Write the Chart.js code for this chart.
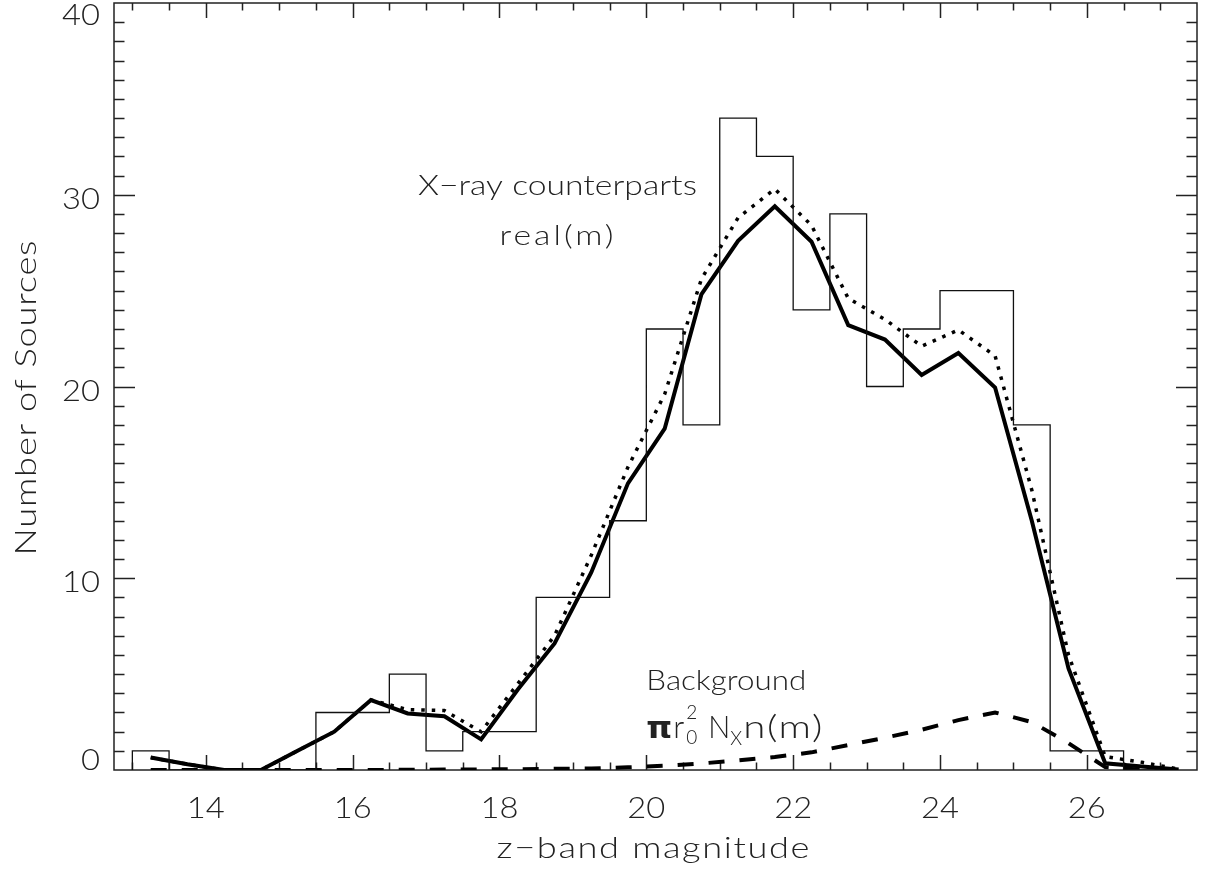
<!DOCTYPE html>
<html>
<head>
<meta charset="utf-8">
<script src="https://cdn.jsdelivr.net/npm/chart.js@4.4.1/dist/chart.umd.min.js"></script>
<style>
  html, body { margin: 0; padding: 0; background: #fff; }
  #wrap { width: 1207px; height: 871px; }
</style>
</head>
<body>
<div id="wrap"><canvas id="chart" width="1207" height="871"></canvas></div>
<script>
// ---- data ----
// histogram of X-ray counterparts, 0.5 mag bins
const binEdges = [13.0, 13.5, 14.0, 14.5, 15.0, 15.5, 16.0, 16.5, 17.0, 17.5, 18.0, 18.5, 19.0, 19.5, 20.0,
                  20.5, 21.0, 21.5, 22.0, 22.5, 23.0, 23.5, 24.0, 24.5, 25.0, 25.5, 26.0, 26.5, 27.0];
const binCounts = [1, 0, 0, 0, 0, 3, 3, 5, 1, 2, 2, 9, 9, 13, 23, 18, 34, 32, 24, 29, 20, 23, 25, 25, 18, 1, 1, 0];

// model curves, sampled at the bin centres
const magCenters = [13.25, 13.75, 14.25, 14.75, 15.25, 15.75, 16.25, 16.75, 17.25, 17.75, 18.25, 18.75, 19.25, 19.75, 20.25,
                    20.75, 21.25, 21.75, 22.25, 22.75, 23.25, 23.75, 24.25, 24.75, 25.25, 25.75, 26.25, 26.75, 27.25];
const realModel = [0.65, 0.3, 0, 0, 1.0, 2.0, 3.65, 2.95, 2.8, 1.6, 4.2, 6.6, 10.3, 14.95, 17.8,
                   24.8, 27.6, 29.4, 27.55, 23.2, 22.45, 20.6, 21.75, 19.95, 13.0, 5.3, 0.35, 0.18, 0.02];
const totalModel = [0.65, 0.3, 0, 0, 1.0, 2.0, 3.65, 3.15, 3.1, 2.0, 4.5, 7.0, 11.2, 15.8, 19.6,
                    25.6, 28.8, 30.3, 28.4, 24.6, 23.5, 22.1, 22.95, 21.6, 14.6, 6.0, 0.7, 0.4, 0.05];
const backgroundModel = [0, 0, 0, 0, 0, 0, 0, 0.01, 0.02, 0.03, 0.04, 0.06, 0.08, 0.14, 0.22,
                         0.34, 0.5, 0.68, 0.92, 1.3, 1.68, 2.1, 2.6, 3.0, 2.5, 1.4, 0.15, 0.02, 0];

const xTicks = [14, 16, 18, 20, 22, 24, 26];
const yTicks = [0, 10, 20, 30, 40];

// ---- helpers ----
const FONT = '"Lato", "Open Sans", "DejaVu Sans", sans-serif';

function charCount(str) { return [...str].length; }

// widen the glyphs (hershey-like) and pad with letter spacing to reach a width
function wideText(ctx, str, x, y, width, align, maxScale) {
  ctx.letterSpacing = '0px';
  const w0 = ctx.measureText(str).width;
  const s = Math.min(width / w0, maxScale || 1.25);
  const n = charCount(str);
  const sp = n > 1 ? Math.max(0, (width - w0 * s) / (n - 1)) : 0;
  const w = w0 * s + sp * (n - 1);
  const left = align === 'center' ? x - w / 2 : align === 'right' ? x - w : x;
  ctx.save();
  ctx.translate(left, y);
  ctx.scale(s, 1);
  ctx.letterSpacing = (sp / s) + 'px';
  ctx.textAlign = 'left';
  ctx.fillText(str, 0, 0);
  ctx.restore();
}

const framePlugin = {
  id: 'frame',
  beforeDatasetsDraw(chart) {
    const { ctx, chartArea: a, scales: { x, y } } = chart;
    ctx.save();
    ctx.strokeStyle = '#222';
    ctx.lineWidth = 1.5;
    ctx.strokeRect(a.left, a.top, a.right - a.left, a.bottom - a.top);

    ctx.beginPath();
    // x: minor every 0.5, major on labelled ticks; bottom and top
    for (let v = 13; v < x.max; v += 0.5) {
      const px = Math.round(x.getPixelForValue(v)) + 0.5;
      const len = xTicks.includes(v) ? 15 : 7.5;
      ctx.moveTo(px, a.bottom); ctx.lineTo(px, a.bottom - len);
      ctx.moveTo(px, a.top); ctx.lineTo(px, a.top + len);
    }
    // y: minor every 1, major every 10; left and right
    for (let v = 1; v < y.max; v += 1) {
      const py = Math.round(y.getPixelForValue(v)) + 0.5;
      const len = yTicks.includes(v) ? 21 : 10.5;
      ctx.moveTo(a.left, py); ctx.lineTo(a.left + len, py);
      ctx.moveTo(a.right, py); ctx.lineTo(a.right - len, py);
    }
    ctx.stroke();

    // tick labels
    ctx.fillStyle = '#222';
    ctx.font = '300 30px ' + FONT;
    ctx.textBaseline = 'alphabetic';
    x.ticks.forEach(t => {
      const str = String(t.value);
      wideText(ctx, str, x.getPixelForValue(t.value), a.bottom + 48, str.length * 19, 'center', 1.1);
    });
    y.ticks.forEach(t => {
      const str = String(t.value);
      const py = Math.min(Math.max(y.getPixelForValue(t.value) + 14, 25), a.bottom);
      wideText(ctx, str, a.left - 14, py, str.length * 19, 'right', 1.1);
    });

    // axis titles
    ctx.font = '300 29px ' + FONT;
    wideText(ctx, 'z\u2212band magnitude', 653, 858, 313, 'center');
    ctx.save();
    ctx.translate(36, 398);
    ctx.rotate(-Math.PI / 2);
    wideText(ctx, 'Number of Sources', 0, 0, 315, 'center');
    ctx.restore();
    ctx.restore();
  },
  afterDraw(chart) {
    const { ctx, scales: { x, y } } = chart;
    ctx.save();
    ctx.fillStyle = '#222';
    ctx.textBaseline = 'alphabetic';

    ctx.font = '300 27px ' + FONT;
    wideText(ctx, 'X\u2212ray counterparts', x.getPixelForValue(16.89), y.getPixelForValue(30.0), 279, 'left');
    wideText(ctx, 'real(m)', x.getPixelForValue(18.0), y.getPixelForValue(27.4), 114, 'left');
    wideText(ctx, 'Background', x.getPixelForValue(20.0), y.getPixelForValue(4.17), 160, 'left');

    // pi r_0^2 N_x n(m)
    const fx = x.getPixelForValue(20.0);
    const fy = y.getPixelForValue(1.67);
    ctx.font = 'bold 30px "DejaVu Sans", sans-serif';
    wideText(ctx, '\u03c0', fx, fy, 26, 'left', 1.2);
    ctx.font = '300 31px ' + FONT;
    ctx.fillText('r', fx + 27, fy);
    ctx.font = '300 19px ' + FONT;
    ctx.fillText('2', fx + 40, fy - 19);
    ctx.fillText('0', fx + 40, fy + 6);
    ctx.font = '300 31px ' + FONT;
    wideText(ctx, 'N', fx + 62, fy, 22, 'left', 1.15);
    ctx.font = '300 19px ' + FONT;
    ctx.fillText('X', fx + 84, fy + 7);
    ctx.font = '300 31px ' + FONT;
    wideText(ctx, 'n(m)', fx + 97, fy, 79, 'left', 1.3);
    ctx.restore();
  }
};

const pts = ys => magCenters.map((m, i) => ({ x: m, y: ys[i] }));
const histPts = [{ x: binEdges[0], y: 0 }]
  .concat(binCounts.map((c, i) => ({ x: binEdges[i], y: c })))
  .concat([{ x: binEdges[binEdges.length - 1], y: 0 }]);

new Chart(document.getElementById('chart'), {
  type: 'line',
  data: {
    datasets: [
      { label: 'X-ray counterparts', data: histPts, stepped: 'before', borderColor: '#111',
        borderWidth: 1.3, pointRadius: 0, fill: false },
      { label: 'Background', data: pts(backgroundModel), borderColor: '#000', borderWidth: 4,
        borderDash: [16, 15], pointRadius: 0, fill: false, tension: 0 },
      { label: 'Total', data: pts(totalModel), borderColor: '#000', borderWidth: 3.5,
        borderDash: [3.5, 7], pointRadius: 0, fill: false, tension: 0 },
      { label: 'real(m)', data: pts(realModel), borderColor: '#000', borderWidth: 4,
        pointRadius: 0, fill: false, tension: 0 }
    ]
  },
  options: {
    responsive: false,
    animation: false,
    events: [],
    layout: { padding: { top: 3, right: 10, left: 0, bottom: 0 } },
    plugins: { legend: { display: false }, tooltip: { enabled: false } },
    scales: {
      x: {
        type: 'linear', min: 12.75, max: 27.5,
        grid: { display: false }, border: { display: false }, ticks: { display: false },
        afterBuildTicks: s => { s.ticks = xTicks.map(v => ({ value: v })); },
        afterFit: s => { s.height = 101; }
      },
      y: {
        type: 'linear', min: 0, max: 40,
        grid: { display: false }, border: { display: false }, ticks: { display: false },
        afterBuildTicks: s => { s.ticks = yTicks.map(v => ({ value: v })); },
        afterFit: s => { s.width = 114; }
      }
    }
  },
  plugins: [framePlugin]
});
</script>
</body>
</html>
